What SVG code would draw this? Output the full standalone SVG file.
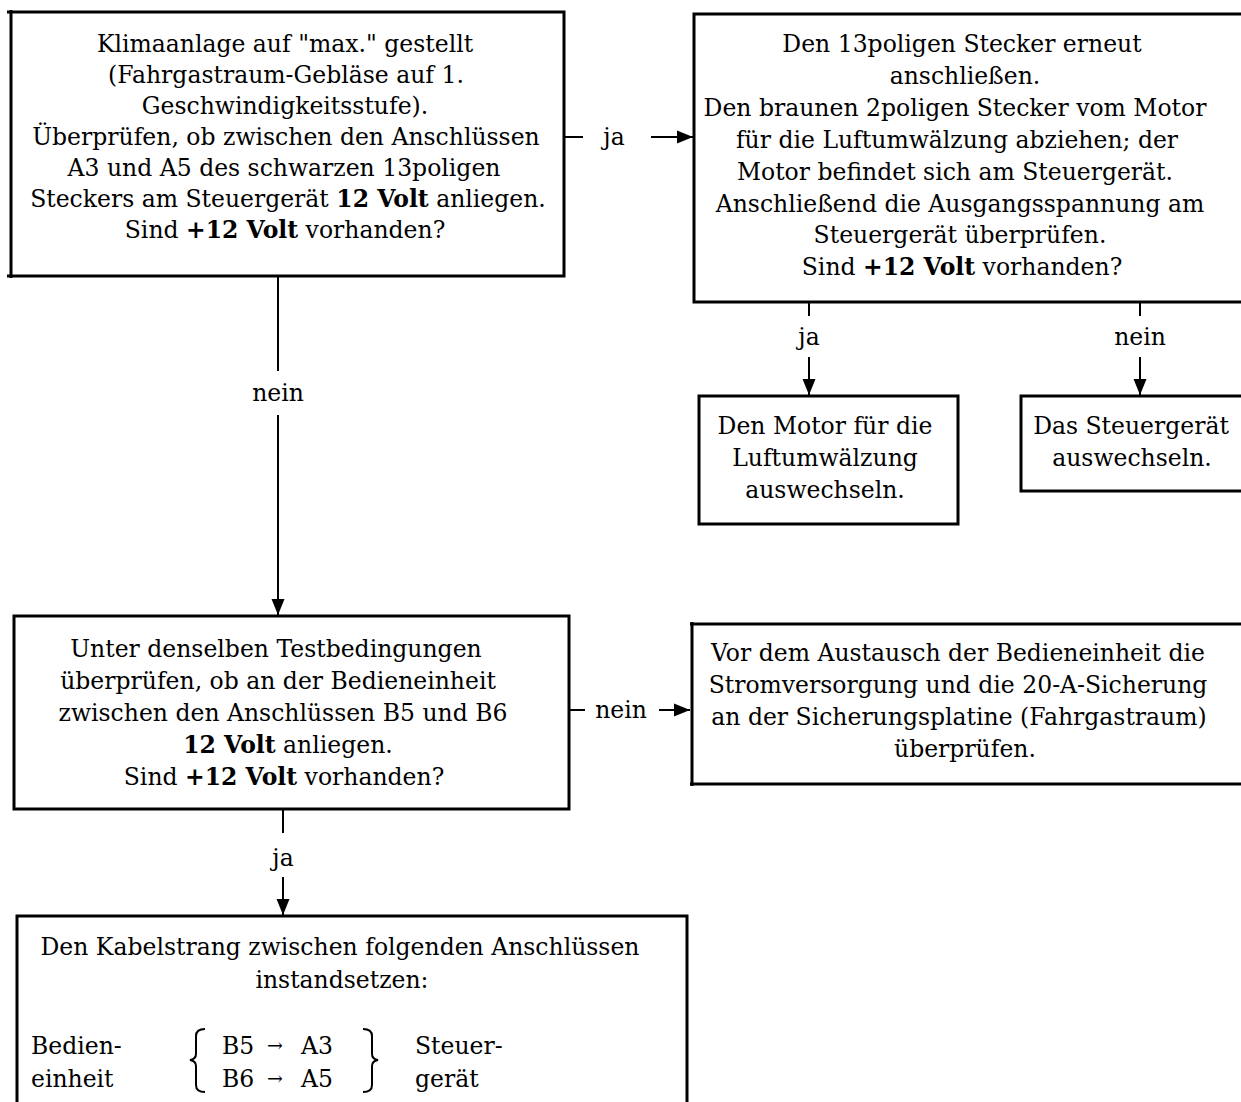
<svg xmlns="http://www.w3.org/2000/svg" width="1241" height="1102" viewBox="0 0 1241 1102">
  <style>
    .box { fill: none; stroke: #000; stroke-width: 3; }
    .edge { fill: none; stroke: #000; stroke-width: 2; }
    text { font-family: "DejaVu Serif", "Liberation Serif", serif; font-size: 23.5px; fill: #000; }
    .c { text-anchor: middle; }
    .b { font-weight: bold; }
    .arr { font-size: 19px; }
  </style>
  <defs>
    <marker id="arrow" markerUnits="userSpaceOnUse" markerWidth="18" markerHeight="14" refX="16" refY="7" orient="auto">
      <path d="M0,0.5 L16,7 L0,13.5 Z" fill="#000"/>
    </marker>
  </defs>
  <rect width="1241" height="1102" fill="#fff"/>

  <!-- Check 1: supply voltage at the control unit -->
  <g id="node-check-supply">
    <path class="box" d="M7,12 H564 V276 H7 M11,10 V278"/>
    <text class="c" x="285" y="52">Klimaanlage auf "max." gestellt</text>
    <text class="c" x="286" y="83">(Fahrgastraum-Gebläse auf 1.</text>
    <text class="c" x="285" y="114">Geschwindigkeitsstufe).</text>
    <text class="c" x="286" y="145">Überprüfen, ob zwischen den Anschlüssen</text>
    <text class="c" x="284" y="176">A3 und A5 des schwarzen 13poligen</text>
    <text class="c" x="288" y="207">Steckers am Steuergerät <tspan class="b">12 Volt</tspan> anliegen.</text>
    <text class="c" x="285" y="238">Sind <tspan class="b">+12 Volt</tspan> vorhanden?</text>
  </g>

  <!-- Check 2: output voltage of the control unit -->
  <g id="node-check-output">
    <path class="box" d="M1250,14 H694 V302 H1250"/>
    <text class="c" x="962" y="52">Den 13poligen Stecker erneut</text>
    <text class="c" x="965" y="84">anschließen.</text>
    <text class="c" x="955" y="116">Den braunen 2poligen Stecker vom Motor</text>
    <text class="c" x="957" y="148">für die Luftumwälzung abziehen; der</text>
    <text class="c" x="955" y="180">Motor befindet sich am Steuergerät.</text>
    <text class="c" x="960" y="212">Anschließend die Ausgangsspannung am</text>
    <text class="c" x="960" y="243">Steuergerät überprüfen.</text>
    <text class="c" x="962" y="275">Sind <tspan class="b">+12 Volt</tspan> vorhanden?</text>
  </g>

  <!-- Result: replace recirculation motor -->
  <g id="node-replace-motor">
    <rect class="box" x="699" y="396" width="259" height="128"/>
    <text class="c" x="825" y="434">Den Motor für die</text>
    <text class="c" x="825" y="466">Luftumwälzung</text>
    <text class="c" x="825" y="498">auswechseln.</text>
  </g>

  <!-- Result: replace control unit -->
  <g id="node-replace-control-unit">
    <path class="box" d="M1250,396 H1021 V491 H1250"/>
    <text class="c" x="1131" y="434">Das Steuergerät</text>
    <text class="c" x="1132" y="466">auswechseln.</text>
  </g>

  <!-- Check 3: voltage at the operating unit -->
  <g id="node-check-operating-unit">
    <rect class="box" x="14" y="616" width="555" height="193"/>
    <text class="c" x="276" y="657">Unter denselben Testbedingungen</text>
    <text class="c" x="278" y="689">überprüfen, ob an der Bedieneinheit</text>
    <text class="c" x="283" y="721">zwischen den Anschlüssen B5 und B6</text>
    <text class="c" x="288" y="753"><tspan class="b">12 Volt</tspan> anliegen.</text>
    <text class="c" x="284" y="785">Sind <tspan class="b">+12 Volt</tspan> vorhanden?</text>
  </g>

  <!-- Result: check power supply and fuse -->
  <g id="node-check-fuse">
    <path class="box" d="M1250,624 H690 M692,622 V786 M690,784 H1250"/>
    <text class="c" x="958" y="661">Vor dem Austausch der Bedieneinheit die</text>
    <text class="c" x="958" y="693">Stromversorgung und die 20-A-Sicherung</text>
    <text class="c" x="959" y="725">an der Sicherungsplatine (Fahrgastraum)</text>
    <text class="c" x="965" y="757">überprüfen.</text>
  </g>

  <!-- Result: repair wiring harness -->
  <g id="node-repair-harness">
    <path class="box" d="M17,1110 V916 H687 V1110"/>
    <text class="c" x="340" y="955">Den Kabelstrang zwischen folgenden Anschlüssen</text>
    <text class="c" x="342" y="988">instandsetzen:</text>
    <text x="31" y="1054">Bedien-</text>
    <text x="31" y="1087">einheit</text>
    <path class="edge" d="M205,1029 Q196,1029 196,1036 V1054 Q196,1059 190,1060 Q196,1061 196,1066 V1085 Q196,1092 205,1092"/>
    <text x="222" y="1054">B5</text>
    <text class="arr" x="267" y="1052">→</text>
    <text x="301" y="1054">A3</text>
    <text x="222" y="1087">B6</text>
    <text class="arr" x="267" y="1085">→</text>
    <text x="301" y="1087">A5</text>
    <path class="edge" d="M363,1029 Q372,1029 372,1036 V1054 Q372,1059 378,1060 Q372,1061 372,1066 V1085 Q372,1092 363,1092"/>
    <text x="415" y="1054">Steuer-</text>
    <text x="415" y="1087">gerät</text>
  </g>

  <!-- Connectors with their yes/no labels -->
  <g id="connectors">
    <line class="edge" x1="564" y1="137" x2="583" y2="137"/>
    <text class="c" x="614" y="145">ja</text>
    <line class="edge" x1="651" y1="137" x2="693" y2="137" marker-end="url(#arrow)"/>

    <line class="edge" x1="278" y1="276" x2="278" y2="371"/>
    <text class="c" x="278" y="401">nein</text>
    <line class="edge" x1="278" y1="415" x2="278" y2="615" marker-end="url(#arrow)"/>

    <line class="edge" x1="809" y1="302" x2="809" y2="316"/>
    <text class="c" x="809" y="345">ja</text>
    <line class="edge" x1="809" y1="357" x2="809" y2="395" marker-end="url(#arrow)"/>

    <line class="edge" x1="1140" y1="302" x2="1140" y2="316"/>
    <text class="c" x="1140" y="345">nein</text>
    <line class="edge" x1="1140" y1="357" x2="1140" y2="395" marker-end="url(#arrow)"/>

    <line class="edge" x1="569" y1="710" x2="585" y2="710"/>
    <text class="c" x="621" y="718">nein</text>
    <line class="edge" x1="659" y1="710" x2="690" y2="710" marker-end="url(#arrow)"/>

    <line class="edge" x1="283" y1="809" x2="283" y2="833"/>
    <text class="c" x="283" y="866">ja</text>
    <line class="edge" x1="283" y1="877" x2="283" y2="915" marker-end="url(#arrow)"/>
  </g>
</svg>
